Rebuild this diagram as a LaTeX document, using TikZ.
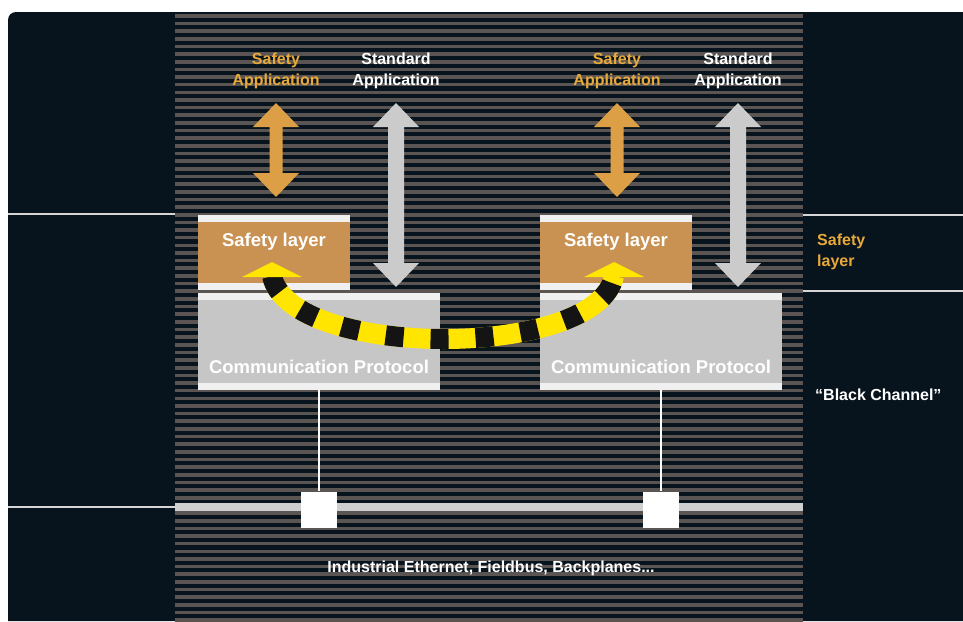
\documentclass[tikz,border=0pt]{standalone}
\usepackage{fontspec}
\setmainfont{Liberation Sans}
\definecolor{panel}{HTML}{07141D}
\definecolor{stripec}{HTML}{5A5552}
\definecolor{wlinec}{HTML}{D6D6D6}
\definecolor{busc}{HTML}{CFCFCF}
\definecolor{obox}{HTML}{C99152}
\definecolor{wstrip}{HTML}{F0F0F0}
\definecolor{gbox}{HTML}{C6C6C6}
\definecolor{oarrow}{HTML}{DD9F45}
\definecolor{garrow}{HTML}{CBCBCB}
\definecolor{otext}{HTML}{E8A93A}
\definecolor{ytape}{HTML}{FFE500}
\definecolor{btape}{HTML}{141414}
\newcommand{\fatarrow}[7]{%
 \fill[#7] (#1,#2) -- ({#1+#4},{#2+#6}) -- ({#1+#5},{#2+#6}) -- ({#1+#5},{#3-#6}) -- ({#1+#4},{#3-#6}) -- (#1,#3) -- ({#1-#4},{#3-#6}) -- ({#1-#5},{#3-#6}) -- ({#1-#5},{#2+#6}) -- ({#1-#4},{#2+#6}) -- cycle;}
\begin{document}
\begin{tikzpicture}[x=1pt,y=-1pt,
  lbl/.style={font=\bfseries\fontsize{16}{21.5}\selectfont, inner sep=0pt, align=center},
  boxlbl/.style={font=\bfseries\fontsize{18.5}{20}\selectfont, inner sep=0pt, text=white},
  plate/.style={fill=wstrip, inner sep=0pt, minimum width=#1},
  sq/.style={fill=white, inner sep=0pt, minimum size=36pt},
  vline/.style={draw=white, line width=2pt},
  wline/.style={draw=wlinec, line width=2pt}]
\useasboundingbox (0,0) rectangle (963,621);
\fill[white] (0,0) rectangle (963,621);
\fill[panel] (8,621) -- (8,20) arc[start angle=180,end angle=270,radius=8] -- (963,12) -- (963,621) -- cycle;
% stripes
\foreach \i in {0,...,79} \fill[stripec] (175,{14+7.65*\i}) rectangle (803,{17.6+7.65*\i});
% side rules
\draw[wline] (8,214) -- (175,214);
\draw[wline] (8,507) -- (175,507);
\draw[wline] (803,215) -- (963,215);
\draw[wline] (803,291) -- (963,291);
% bus
\fill[busc] (175,503) rectangle (803,511);
% boxes
\node[plate=152pt, minimum height=75pt] (slL) at (274,252.5) {};
\fill[obox] (198,222) rectangle (350,283);
\node[plate=242pt, minimum height=97pt] (cpL) at (319,341.5) {};
\fill[gbox] (198,300) rectangle (440,383);
\node[plate=152pt, minimum height=75pt] (slR) at (616,252.5) {};
\fill[obox] (540,222) rectangle (692,283);
\node[plate=242pt, minimum height=97pt] (cpR) at (661,341.5) {};
\fill[gbox] (540,300) rectangle (782,383);
% taps
\node[sq] (sqL) at (319,509.5) {};
\node[sq] (sqR) at (661,509.5) {};
\draw[vline] (cpL.south) -- (sqL.north);
\draw[vline] (cpR.south) -- (sqR.north);
% fat arrows
\fatarrow{276}{103}{197}{23}{6.5}{24}{oarrow}
\fatarrow{396}{103}{287}{23}{8}{24}{garrow}
\fatarrow{617}{103}{197}{23}{6.5}{24}{oarrow}
\fatarrow{738}{103}{287}{23}{8}{24}{garrow}
% black channel tape
\coordinate (hL) at (272,276);
\coordinate (hR) at (614,276);
\draw[ytape, line width=20pt] (hL) .. controls (290,360) and (598,360) .. (hR);
\draw[btape, line width=20pt, dash pattern=on 18pt off 27pt] (hL) .. controls (290,360) and (598,360) .. (hR);
\fill[ytape] (242,277) -- (272,262) -- (302,277) -- cycle;
\fill[ytape] (584,277) -- (614,262) -- (644,277) -- cycle;
% texts
\node[lbl, text=otext] (saL) at (276,71) {Safety\\Application};
\node[lbl, text=white] (stL) at (396,71) {Standard\\Application};
\node[lbl, text=otext] (saR) at (617,71) {Safety\\Application};
\node[lbl, text=white] (stR) at (738,71) {Standard\\Application};
\node[boxlbl] at (274,242) {Safety layer};
\node[boxlbl] at (616,242) {Safety layer};
\node[boxlbl] at (319,367) {Communication Protocol};
\node[boxlbl] at (661,367) {Communication Protocol};
\node[lbl, text=otext, anchor=west, align=left] at (817,252) {Safety\\layer};
\node[lbl, text=white, anchor=west] at (815,395) {“Black Channel”};
\node[lbl, text=white] at (491,568) {Industrial Ethernet, Fieldbus, Backplanes...};
\end{tikzpicture}
\end{document}
